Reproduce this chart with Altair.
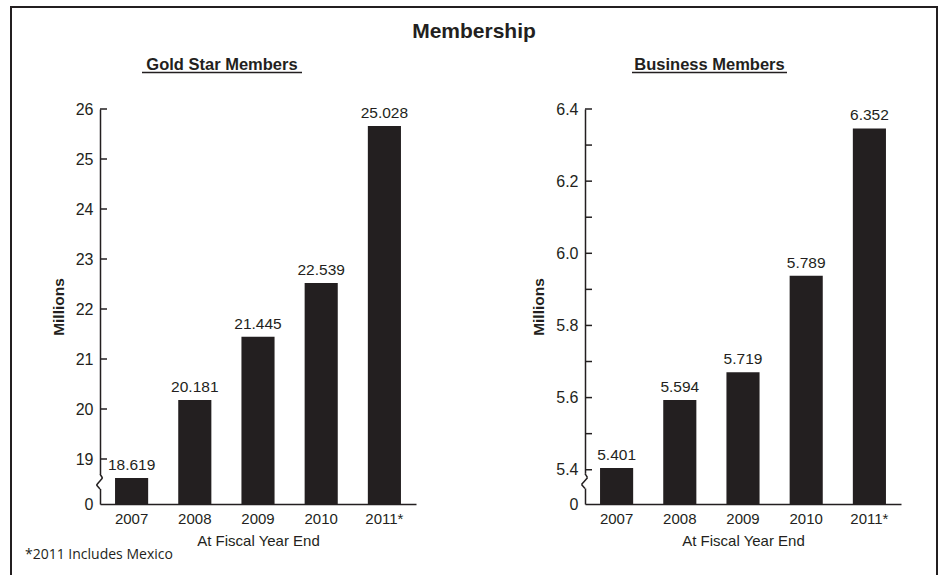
import altair as alt
import pandas as pd

INK = "#231f20"
FONT = "Liberation Sans"

years = ["2007", "2008", "2009", "2010", "2011*"]

# Gold Star Members (bar heights as drawn, labels as printed)
gold_values = [18.619, 20.181, 21.445, 22.52, 25.66]
gold_labels = ["18.619", "20.181", "21.445", "22.539", "25.028"]
gold_axis_min = 18.1
gold_axis_max = 26
gold_major = [19, 20, 21, 22, 23, 24, 25, 26]
gold_minor = []
gold_break = [18.70, 18.62, 18.48, 18.40]

# Business Members
biz_values = [5.405, 5.593, 5.67, 5.938, 6.346]
biz_labels = ["5.401", "5.594", "5.719", "5.789", "6.352"]
biz_axis_min = 5.305
biz_axis_max = 6.4
biz_major = [5.4, 5.6, 5.8, 6.0, 6.2, 6.4]
biz_minor = [5.5, 5.7, 5.9, 6.1, 6.3]
biz_break = [5.389, 5.378, 5.359, 5.348]

break_dx = [0, 2.5, -3.5, 0]

W, H = 316, 395


def panel(values, labels, ymin, ymax, major, minor, breaks, label_expr,
          subtitle, sub_x, ul_x1, ul_x2, border_layers):
    df = pd.DataFrame({"year": years, "value": values, "label": labels})
    yscale = alt.Scale(domain=[ymin, ymax], zero=False, nice=False)
    yaxis = alt.Axis(values=[ymin] + major, labelExpr=label_expr, ticks=False,
                     domain=True, domainColor=INK, domainWidth=1.5, grid=False,
                     labelFont=FONT, labelFontSize=16, labelColor=INK, labelPadding=7,
                     title="Millions", titleFont=FONT, titleFontSize=15.5,
                     titleFontWeight="bold", titleColor=INK, titlePadding=9)

    def ych(field):
        return alt.Y(field, scale=yscale, axis=yaxis)

    xenc = alt.X("year:N", sort=years,
                 scale=alt.Scale(paddingInner=0.476, paddingOuter=0.238),
                 axis=alt.Axis(labelAngle=0, ticks=False, domainColor=INK, domainWidth=1.5,
                               labelFont=FONT, labelFontSize=15, labelColor=INK,
                               labelPadding=7, title="At Fiscal Year End",
                               titleFont=FONT, titleFontSize=15, titleFontWeight="normal",
                               titleColor=INK, titlePadding=7))

    bars = alt.Chart(df).mark_bar(color=INK).encode(
        x=xenc, y=ych("value:Q"), y2=alt.datum(ymin))
    texts = alt.Chart(df).mark_text(dy=-8, font=FONT, fontSize=15.5, color=INK,
                                    baseline="alphabetic").encode(
        x=alt.X("year:N", sort=years), y=ych("value:Q"), text="label:N")

    tdf = pd.DataFrame({"tick": major + minor})
    ticks = alt.Chart(tdf).mark_rule(color=INK, strokeWidth=1.5).encode(
        y=ych("tick:Q"), x=alt.value(0), x2=alt.value(7))

    layers = [bars, texts, ticks]

    cover = alt.Chart(pd.DataFrame({"a": [breaks[0]], "b": [breaks[-1]]})).mark_rule(
        color="white", strokeWidth=5).encode(x=alt.value(0), y=ych("a:Q"), y2="b:Q")
    layers.append(cover)
    for i in range(len(breaks) - 1):
        seg = alt.Chart(pd.DataFrame({"a": [breaks[i]], "b": [breaks[i + 1]]})).mark_rule(
            color=INK, strokeWidth=1.5).encode(
            x=alt.value(break_dx[i]), x2=alt.value(break_dx[i + 1]),
            y=ych("a:Q"), y2="b:Q")
        layers.append(seg)

    sub = alt.Chart(pd.DataFrame({"t": [subtitle]})).mark_text(
        font=FONT, fontSize=16.5, fontWeight="bold", color=INK, align="center",
        baseline="alphabetic").encode(x=alt.value(sub_x), y=alt.value(-39), text="t:N")
    ul = alt.Chart(pd.DataFrame({"t": [subtitle]})).mark_rule(
        color=INK, strokeWidth=1.3).encode(
        x=alt.value(ul_x1), x2=alt.value(ul_x2), y=alt.value(-36.5))
    layers += [sub, ul] + border_layers

    return alt.layer(*layers).properties(width=W, height=H)


def rule(x1, x2, y1, y2):
    return alt.Chart(pd.DataFrame({"k": [0]})).mark_rule(
        color=INK, strokeWidth=2).encode(
        x=alt.value(x1), x2=alt.value(x2), y=alt.value(y1), y2=alt.value(y2))


foot = alt.Chart(pd.DataFrame({"t": ["*2011 Includes Mexico"]})).mark_text(
    font="Open Sans", fontSize=14, color=INK, align="left", baseline="alphabetic").encode(
    x=alt.value(-75), y=alt.value(450), text="t:N")

left = panel(gold_values, gold_labels, gold_axis_min, gold_axis_max, gold_major, gold_minor,
             gold_break, "datum.value < 18.5 ? '0' : format(datum.value, 'd')",
             "Gold Star Members", 122, 42, 202,
             [rule(-89, 316, -102, -102), rule(-89, -89, -103, 466), foot])

right = panel(biz_values, biz_labels, biz_axis_min, biz_axis_max, biz_major, biz_minor,
              biz_break, "datum.value < 5.35 ? '0' : format(datum.value, '.1f')",
              "Business Members", 124.5, 47, 202,
              [rule(-171.5, 352, -102, -102), rule(352, 352, -103, 466)])

chart = alt.hconcat(left, right, spacing=-5).properties(
    padding={"left": 10, "top": 5, "right": 0, "bottom": 0},
    background="white",
    title=alt.TitleParams("Membership", font=FONT, fontSize=21, fontWeight="bold",
                          color=INK, anchor="middle", offset=-37),
).configure_view(stroke=None)

chart.save("out.html", embed_options={"renderer": "svg", "actions": False})
